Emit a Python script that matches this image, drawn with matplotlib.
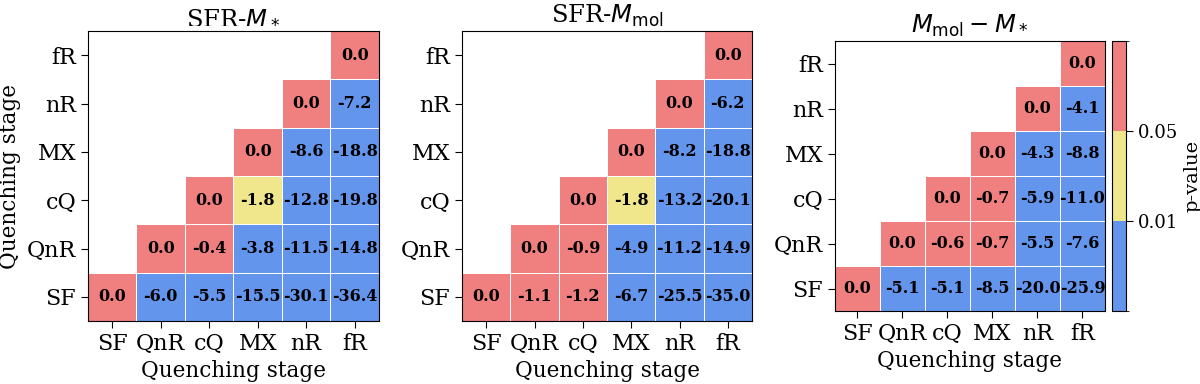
import matplotlib
matplotlib.use("Agg")
import matplotlib.pyplot as plt
from matplotlib.colors import ListedColormap, BoundaryNorm
import numpy as np

plt.rcParams.update({
    "font.family": "DejaVu Serif",
    "mathtext.fontset": "dejavusans",
    "font.size": 15,
})

stages = ["SF", "QnR", "cQ", "MX", "nR", "fR"]

# filas de abajo (SF) hacia arriba (fR); cada fila empieza en la diagonal
diff_sfr_mstar = [
    [0.0, -6.0, -5.5, -15.5, -30.1, -36.4],
    [0.0, -0.4, -3.8, -11.5, -14.8],
    [0.0, -1.8, -12.8, -19.8],
    [0.0, -8.6, -18.8],
    [0.0, -7.2],
    [0.0],
]
diff_sfr_mmol = [
    [0.0, -1.1, -1.2, -6.7, -25.5, -35.0],
    [0.0, -0.9, -4.9, -11.2, -14.9],
    [0.0, -1.8, -13.2, -20.1],
    [0.0, -8.2, -18.8],
    [0.0, -6.2],
    [0.0],
]
diff_mmol_mstar = [
    [0.0, -5.1, -5.1, -8.5, -20.0, -25.9],
    [0.0, -0.6, -0.7, -5.5, -7.6],
    [0.0, -0.7, -5.9, -11.0],
    [0.0, -4.3, -8.8],
    [0.0, -4.1],
    [0.0],
]
# p-values aproximados (solo se distingue la clase: <0.01, 0.01-0.05, >0.05)
p_sfr_mstar = [
    [1.0, 0.001, 0.001, 0.001, 0.001, 0.001],
    [1.0, 0.3, 0.001, 0.001, 0.001],
    [1.0, 0.03, 0.001, 0.001],
    [1.0, 0.001, 0.001],
    [1.0, 0.001],
    [1.0],
]
p_sfr_mmol = [
    [1.0, 0.3, 0.3, 0.001, 0.001, 0.001],
    [1.0, 0.3, 0.001, 0.001, 0.001],
    [1.0, 0.03, 0.001, 0.001],
    [1.0, 0.001, 0.001],
    [1.0, 0.001],
    [1.0],
]
p_mmol_mstar = [
    [1.0, 0.001, 0.001, 0.001, 0.001, 0.001],
    [1.0, 0.3, 0.3, 0.001, 0.001],
    [1.0, 0.3, 0.001, 0.001],
    [1.0, 0.001, 0.001],
    [1.0, 0.001],
    [1.0],
]
titles = [r"SFR-$M_*$", r"SFR-$M_{\rm mol}$", r"$M_{\rm mol} - M_*$"]

cmap = ListedColormap(["#6495ED", "#F0E68C", "#F08080"])
norm = BoundaryNorm([0, 0.01, 0.05, 1], cmap.N)


def to_grid(rows):
    n = len(stages)
    g = np.full((n, n), np.nan)
    for i, r in enumerate(rows):
        for k, v in enumerate(r):
            g[i, i + k] = v
    return g


fig = plt.figure(figsize=(12, 3.84), dpi=100)
pos = [[0.0733, 0.164, 0.2425, 0.755],
       [0.385, 0.164, 0.2417, 0.755],
       [0.6958, 0.190, 0.225, 0.703]]
panels = [(diff_sfr_mstar, p_sfr_mstar), (diff_sfr_mmol, p_sfr_mmol),
          (diff_mmol_mstar, p_mmol_mstar)]

for k, ((dv, pv), title) in enumerate(zip(panels, titles)):
    ax = fig.add_axes(pos[k])
    D, P = to_grid(dv), to_grid(pv)
    n = len(stages)
    mesh = ax.pcolormesh(np.arange(n + 1) - 0.5, np.arange(n + 1) - 0.5,
                         np.ma.masked_invalid(P), cmap=cmap, norm=norm,
                         edgecolors="white", linewidth=0.7)
    for i in range(n):
        for j in range(n):
            if not np.isnan(D[i, j]):
                ax.text(j, i, f"{D[i, j]:.1f}", ha="center", va="center",
                        fontsize=11.5, fontweight="bold", color="black")
    ax.set_xlim(-0.5, n - 0.5)
    ax.set_ylim(-0.5, n - 0.5)
    ax.set_xticks(range(n), stages)
    ax.set_yticks(range(n), stages)
    ax.tick_params(length=5, labelsize=16)
    ax.set_xlabel("Quenching stage", fontsize=15.5)
    if k == 0:
        ax.set_ylabel("Quenching stage", fontsize=15.5)
    ax.set_title(title, fontsize=17.5)

cax = fig.add_axes([0.9267, 0.190, 0.0117, 0.703])
cb = fig.colorbar(mesh, cax=cax, ticks=[0.01, 0.05])
cb.ax.set_yticklabels(["0.01", "0.05"])
cb.ax.tick_params(labelsize=13, length=5)
cb.set_label("p-value", fontsize=14)

fig.savefig("out.png")
